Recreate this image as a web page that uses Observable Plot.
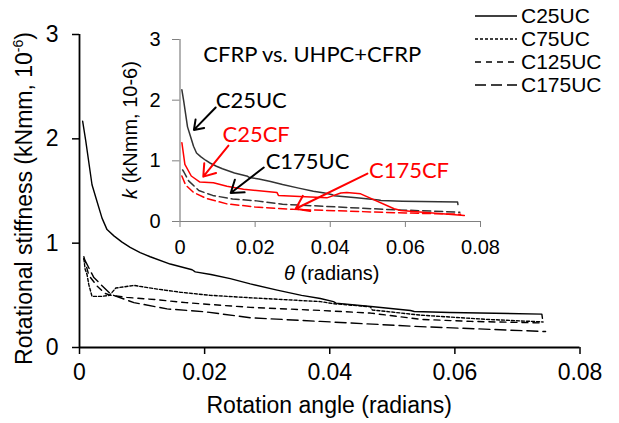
<!DOCTYPE html>
<html><head><meta charset="utf-8">
<script src="https://cdn.jsdelivr.net/npm/d3@7"></script>
<script src="https://cdn.jsdelivr.net/npm/@observablehq/plot@0.6"></script>
<style>
body{margin:0;background:#fff;}
#wrap{position:relative;width:619px;height:423px;overflow:hidden;background:#fff;}
#wrap svg{display:block}
#main{position:absolute;left:0;top:0;}
#inset{position:absolute;left:120px;top:20px;}
#legend{position:absolute;left:475px;top:5px;font-family:"Liberation Sans",Arial,sans-serif;font-size:21px;line-height:20px;color:#000;}
#legend .row{display:flex;align-items:center;height:22.8px;white-space:nowrap;}
#legend svg{margin-right:4px;}
</style></head><body>
<div id="wrap"><div id="main"></div><div id="inset"></div><div id="legend"></div></div>
<script>
// ---------- data (rotation angle, stiffness) ----------
const C25UC = [[0.0005,2.17],[0.001,1.98],[0.002,1.56],[0.0028,1.40],[0.0036,1.24],[0.0044,1.13],[0.0055,1.07],[0.0068,1.01],[0.0081,0.96],[0.0097,0.91],[0.0113,0.87],[0.0145,0.80],[0.018,0.745],[0.0185,0.725],[0.021,0.70],[0.0241,0.66],[0.0273,0.61],[0.0316,0.55],[0.0355,0.50],[0.0385,0.47],[0.0406,0.44],[0.041,0.425],[0.047,0.39],[0.0529,0.355],[0.0535,0.345],[0.0592,0.335],[0.0739,0.32],[0.074,0.28]];
const C75UC = [[0.0007,0.85],[0.0009,0.75],[0.0012,0.70],[0.0015,0.60],[0.002,0.49],[0.0035,0.49],[0.0048,0.50],[0.0058,0.57],[0.0087,0.595],[0.0124,0.56],[0.0161,0.53],[0.0209,0.50],[0.0278,0.475],[0.0385,0.44],[0.0406,0.42],[0.0465,0.39],[0.0468,0.36],[0.0545,0.31],[0.065,0.27],[0.0741,0.245]];
const C125UC = [[0.0007,0.87],[0.001,0.80],[0.0015,0.69],[0.0028,0.59],[0.004,0.52],[0.005,0.50],[0.0076,0.48],[0.012,0.46],[0.017,0.43],[0.0214,0.41],[0.0273,0.385],[0.0385,0.355],[0.0465,0.33],[0.0545,0.27],[0.0626,0.25],[0.0741,0.235]];
const C175UC = [[0.0007,0.85],[0.001,0.82],[0.0023,0.67],[0.005,0.51],[0.0087,0.43],[0.014,0.37],[0.0204,0.34],[0.0273,0.285],[0.0385,0.25],[0.0545,0.20],[0.0745,0.153]];
// inset-only series (CFRP)
const C25CF = [[0.0005,1.30],[0.0013,0.94],[0.003,0.75],[0.0053,0.65],[0.0089,0.64],[0.0125,0.58],[0.0169,0.53],[0.0258,0.48],[0.0262,0.43],[0.0391,0.39],[0.0428,0.47],[0.0444,0.48],[0.0481,0.456],[0.057,0.21],[0.0588,0.18],[0.0757,0.10]];
const C175CF = [[0.0005,0.75],[0.0015,0.60],[0.0036,0.48],[0.007,0.38],[0.0125,0.29],[0.02,0.24],[0.0302,0.20],[0.045,0.17],[0.06,0.14],[0.0747,0.12]];

const xTicks = [0, 0.02, 0.04, 0.06, 0.08];
const yTicks = [0, 1, 2, 3];
const legendNames = ["C25UC", "C75UC", "C125UC", "C175UC"];

// inset annotations (data coordinates of the inset)
const annotText = ["C25UC", "C25CF", "C175UC", "C175CF"];
const annotX = [0.0095, 0.0113, 0.0228, 0.0503];
const annotY = [1.99, 1.42, 0.98, 0.84];
const arrowX1 = [0.0095, 0.0129, 0.0223, 0.0499];
const arrowY1 = [1.88, 1.25, 0.89, 0.79];
const arrowX2 = [0.0037, 0.0062, 0.0135, 0.0308];
const arrowY2 = [1.51, 0.74, 0.47, 0.21];
const insetTitle = "CFRP vs. UHPC+CFRP";

// ---------- helpers ----------
const toRows = (arr) => arr.map(([x, y]) => ({x, y}));
const fmtX = d => d === 0 ? "0" : d.toFixed(2);
const dashes = {C25UC: null, C75UC: "3,2", C125UC: "6,5", C175UC: "11,5"};
const seriesMain = {C25UC, C75UC, C125UC, C175UC};
const annotColor = t => t.endsWith("CF") ? "#ff0000" : "#000000";

// ---------- main chart ----------
const mainFont = "'Liberation Sans', Arial, sans-serif";
const main = Plot.plot({
  width: 619, height: 423,
  marginLeft: 79, marginRight: 39.5, marginTop: 34, marginBottom: 76,
  style: {fontFamily: mainFont, fontSize: "23px", color: "black", background: "white", overflow: "visible"},
  x: {domain: [0, 0.08]},
  y: {domain: [0, 3]},
  marks: [
    Plot.axisX({ticks: xTicks, tickFormat: fmtX, tickSize: 7, tickPadding: 9, label: null, fontSize: 23, stroke: "black", strokeWidth: 1.5}),
    Plot.axisY({ticks: yTicks, tickFormat: d => String(d), tickSize: 7, tickPadding: 14, label: null, fontSize: 23, stroke: "black", strokeWidth: 1.5}),
    Plot.ruleX([0], {stroke: "black", strokeWidth: 1.8}),
    Plot.ruleY([0], {stroke: "black", strokeWidth: 1.8}),
    ...legendNames.map(n => Plot.line(toRows(seriesMain[n]), {x: "x", y: "y", stroke: "black", strokeWidth: 1.4, strokeDasharray: dashes[n] || undefined}))
  ]
});
document.getElementById("main").appendChild(main);
{
  const s = d3.select(main);
  const xr = main.scale("x").range, yr = main.scale("y").range;
  s.append("text").attr("x", (xr[0] + xr[1]) / 2).attr("y", 413).attr("text-anchor", "middle")
    .attr("font-family", mainFont).attr("font-size", 23).attr("fill", "black").text("Rotation angle (radians)");
  const t = s.append("text").attr("transform", `translate(32,${(yr[0] + yr[1]) / 2 + 8}) rotate(-90)`).attr("text-anchor", "middle")
    .attr("font-family", mainFont).attr("font-size", 23).attr("fill", "black");
  t.append("tspan").text("Rotational stiffness (kNmm, 10");
  t.append("tspan").attr("dy", -9).attr("font-size", 14).text("-6");
  t.append("tspan").attr("dy", 9).text(")");
}

// ---------- inset chart ----------
const insetFont = "'Liberation Sans', Arial, sans-serif";
const annFont = "Lato, 'Open Sans', sans-serif";
const annots = annotText.map((t, i) => ({t, x: annotX[i], y: annotY[i], x1: arrowX1[i], y1: arrowY1[i], x2: arrowX2[i], y2: arrowY2[i]}));
const inset = Plot.plot({
  width: 370, height: 270,
  marginLeft: 59.5, marginRight: 10, marginTop: 19, marginBottom: 69,
  style: {fontFamily: insetFont, fontSize: "20px", color: "black", background: "transparent", overflow: "visible"},
  x: {domain: [0, 0.08]},
  y: {domain: [0, 3]},
  marks: [
    Plot.axisX({ticks: xTicks, tickFormat: fmtX, tickSize: 6, tickPadding: 12, label: null, fontSize: 20, stroke: "#808080", fill: "black"}),
    Plot.axisY({ticks: yTicks, tickFormat: d => String(d), tickSize: 7.5, tickPadding: 12, label: null, fontSize: 20, stroke: "#808080", fill: "black"}),
    Plot.ruleX([0], {stroke: "#808080", strokeWidth: 1.2}),
    Plot.ruleY([0], {stroke: "#808080", strokeWidth: 1.2}),
    Plot.line(toRows(C25UC), {x: "x", y: "y", stroke: "#333", strokeWidth: 1.5}),
    Plot.line(toRows(C175UC), {x: "x", y: "y", stroke: "#333", strokeWidth: 1.5, strokeDasharray: "8,4"}),
    Plot.line(toRows(C25CF), {x: "x", y: "y", stroke: "#ff0000", strokeWidth: 1.5}),
    Plot.line(toRows(C175CF), {x: "x", y: "y", stroke: "#ff0000", strokeWidth: 1.5, strokeDasharray: "8,4"}),
    Plot.arrow(annots, {x1: "x1", y1: "y1", x2: "x2", y2: "y2", stroke: d => annotColor(d.t), strokeWidth: 2, headLength: 11, headAngle: 70}),
    Plot.text(annots, {x: "x", y: "y", text: "t", fill: d => annotColor(d.t), textAnchor: "start", fontSize: 22, fontFamily: annFont}),
    Plot.text([insetTitle], {x: 0.0062, y: 2.74, text: d => d, fill: "black", textAnchor: "start", fontSize: 22, fontFamily: annFont})
  ]
});
document.getElementById("inset").appendChild(inset);
{
  const s = d3.select(inset);
  const xr = inset.scale("x").range, yr = inset.scale("y").range;
  const tx = s.append("text").attr("x", (xr[0] + xr[1]) / 2 + 2).attr("y", 260).attr("text-anchor", "middle")
    .attr("font-family", insetFont).attr("font-size", 20).attr("fill", "black");
  tx.append("tspan").attr("font-style", "italic").text("θ");
  tx.append("tspan").text(" (radians)");
  const ty = s.append("text").attr("transform", `translate(17,${(yr[0] + yr[1]) / 2}) rotate(-90)`).attr("text-anchor", "middle")
    .attr("font-family", insetFont).attr("font-size", 20).attr("fill", "black");
  ty.append("tspan").attr("font-style", "italic").text("k");
  ty.append("tspan").text(" (kNmm, 10-6)");
}

// ---------- legend ----------
const leg = d3.select("#legend");
legendNames.forEach(n => {
  const row = leg.append("div").attr("class", "row");
  const sv = row.append("svg").attr("width", 42).attr("height", 6);
  sv.append("line").attr("x1", 0).attr("x2", 42).attr("y1", 3).attr("y2", 3)
    .attr("stroke", "black").attr("stroke-width", 1.4).attr("stroke-dasharray", dashes[n]);
  row.append("span").text(n);
});
</script>
</body></html>
